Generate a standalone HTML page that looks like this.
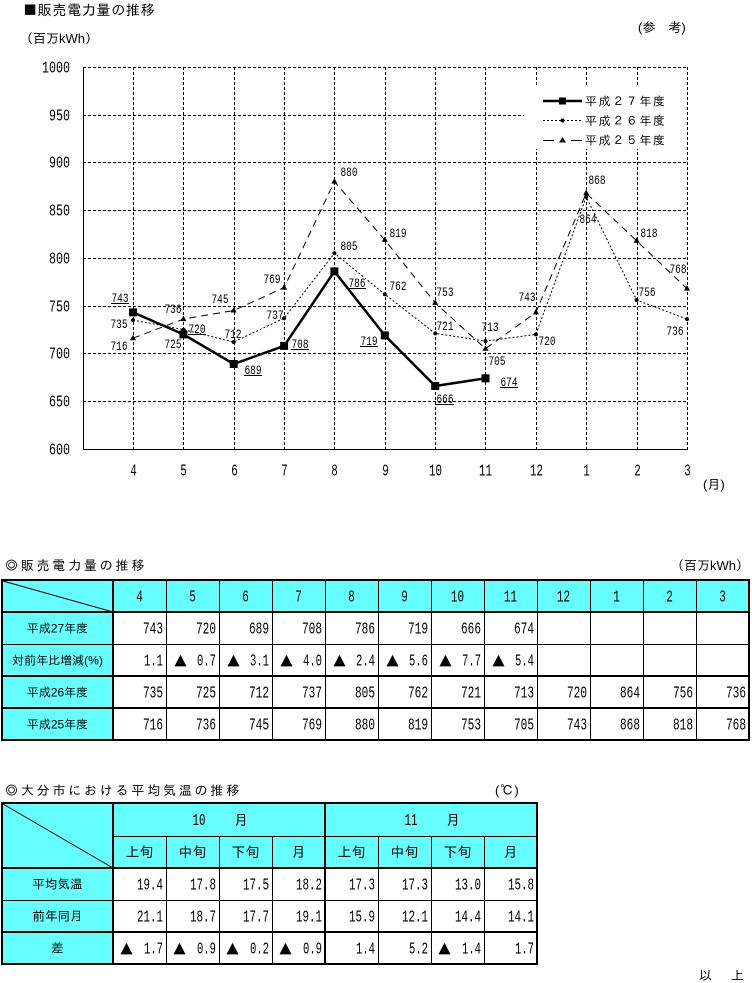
<!DOCTYPE html>
<html><head><meta charset="utf-8"><style>
html,body{margin:0;padding:0;background:#fff;}
svg{display:block;}
.jp{font-family:"Liberation Sans","IPAGothic","Noto Sans CJK JP",sans-serif;fill:#000;}
.sym{font-family:"IPAGothic","Noto Sans CJK JP",sans-serif;}
.tri{font-family:"IPAGothic","Noto Sans CJK JP",sans-serif;font-size:15px;fill:#000;}
.yt{font-family:"Liberation Mono",monospace;font-size:17px;fill:#000;}
.dl{font-family:"Liberation Mono",monospace;font-size:13px;fill:#000;}
.tn{font-family:"Liberation Mono",monospace;font-size:17px;fill:#000;}
</style></head><body>
<svg width="752" height="983" viewBox="0 0 752 983" xmlns="http://www.w3.org/2000/svg">
<rect width="752" height="983" fill="#fff"/>
<!-- Titles -->
<text class="jp" x="23" y="15" font-size="14" letter-spacing="0.7"><tspan class="sym">■</tspan>販売電力量の推移</text>
<text class="jp" x="20" y="43" font-size="13">（百万kWh）</text>
<text class="jp" x="638" y="32" font-size="13">(参　考)</text>

<!-- grid -->
<g stroke="#000" stroke-width="1" stroke-dasharray="3,2" fill="none">
<line x1="83" y1="67.5" x2="687" y2="67.5"/>
<line x1="83" y1="115.5" x2="687" y2="115.5"/>
<line x1="83" y1="162.5" x2="687" y2="162.5"/>
<line x1="83" y1="210.5" x2="687" y2="210.5"/>
<line x1="83" y1="258.5" x2="687" y2="258.5"/>
<line x1="83" y1="306.5" x2="687" y2="306.5"/>
<line x1="83" y1="353.5" x2="687" y2="353.5"/>
<line x1="83" y1="401.5" x2="687" y2="401.5"/>
<line x1="133.5" y1="67" x2="133.5" y2="449"/>
<line x1="183.5" y1="67" x2="183.5" y2="449"/>
<line x1="234.5" y1="67" x2="234.5" y2="449"/>
<line x1="284.5" y1="67" x2="284.5" y2="449"/>
<line x1="334.5" y1="67" x2="334.5" y2="449"/>
<line x1="385.5" y1="67" x2="385.5" y2="449"/>
<line x1="435.5" y1="67" x2="435.5" y2="449"/>
<line x1="485.5" y1="67" x2="485.5" y2="449"/>
<line x1="536.5" y1="67" x2="536.5" y2="449"/>
<line x1="586.5" y1="67" x2="586.5" y2="449"/>
<line x1="637.5" y1="67" x2="637.5" y2="449"/>
<line x1="687.5" y1="67" x2="687.5" y2="449"/>
</g>
<g stroke="#000" stroke-width="1">
<line x1="83.5" y1="67" x2="83.5" y2="449.5"/>
<line x1="83" y1="449.5" x2="688" y2="449.5"/>
</g>

<!-- legend -->
<rect x="524" y="87" width="162" height="62" fill="#fff"/>
<line x1="543" y1="101" x2="582" y2="101" stroke="#000" stroke-width="2.5"/>
<rect x="559" y="97.5" width="7" height="7" fill="#000"/>
<text class="jp" x="585" y="105.5" font-size="12" letter-spacing="1.6">平成２７年度</text>
<line x1="543" y1="120.5" x2="582" y2="120.5" stroke="#000" stroke-width="1" stroke-dasharray="2,2"/>
<circle cx="562.5" cy="120.5" r="2" fill="#000"/>
<text class="jp" x="585" y="125" font-size="12" letter-spacing="1.6">平成２６年度</text>
<line x1="543" y1="140.5" x2="554" y2="140.5" stroke="#000" stroke-width="1"/>
<line x1="571" y1="140.5" x2="582" y2="140.5" stroke="#000" stroke-width="1"/>
<polygon points="562.5,137 559,142.5 566,142.5" fill="#000"/>
<text class="jp" x="585" y="144.5" font-size="12" letter-spacing="1.6">平成２５年度</text>

<!-- y ticks -->
<g class="yt" text-anchor="end">
<text x="70" y="72.5" textLength="28" lengthAdjust="spacingAndGlyphs">1000</text>
<text x="70" y="120.5" textLength="21" lengthAdjust="spacingAndGlyphs">950</text>
<text x="70" y="167.5" textLength="21" lengthAdjust="spacingAndGlyphs">900</text>
<text x="70" y="215.5" textLength="21" lengthAdjust="spacingAndGlyphs">850</text>
<text x="70" y="263.5" textLength="21" lengthAdjust="spacingAndGlyphs">800</text>
<text x="70" y="311.5" textLength="21" lengthAdjust="spacingAndGlyphs">750</text>
<text x="70" y="358.5" textLength="21" lengthAdjust="spacingAndGlyphs">700</text>
<text x="70" y="406.5" textLength="21" lengthAdjust="spacingAndGlyphs">650</text>
<text x="70" y="454.5" textLength="21" lengthAdjust="spacingAndGlyphs">600</text>
</g>
<!-- x ticks -->
<g class="yt" text-anchor="middle">
<text x="133.5" y="475.5" textLength="6.5" lengthAdjust="spacingAndGlyphs">4</text>
<text x="183.5" y="475.5" textLength="6.5" lengthAdjust="spacingAndGlyphs">5</text>
<text x="234.5" y="475.5" textLength="6.5" lengthAdjust="spacingAndGlyphs">6</text>
<text x="284.5" y="475.5" textLength="6.5" lengthAdjust="spacingAndGlyphs">7</text>
<text x="334.5" y="475.5" textLength="6.5" lengthAdjust="spacingAndGlyphs">8</text>
<text x="385.5" y="475.5" textLength="6.5" lengthAdjust="spacingAndGlyphs">9</text>
<text x="435.5" y="475.5" textLength="13" lengthAdjust="spacingAndGlyphs">10</text>
<text x="485.5" y="475.5" textLength="13" lengthAdjust="spacingAndGlyphs">11</text>
<text x="536.5" y="475.5" textLength="13" lengthAdjust="spacingAndGlyphs">12</text>
<text x="586.5" y="475.5" textLength="6.5" lengthAdjust="spacingAndGlyphs">1</text>
<text x="637.5" y="475.5" textLength="6.5" lengthAdjust="spacingAndGlyphs">2</text>
<text x="687.5" y="475.5" textLength="6.5" lengthAdjust="spacingAndGlyphs">3</text>
</g>
<text class="jp" x="703" y="489" font-size="13">(月)</text>

<!-- series -->
<path d="M133,338.2 L183.4,319.1 L233.7,310.5 L284.1,287.6 L334.4,181.6 L384.8,239.9 L435.2,302.9 L485.5,348.7 L535.9,312.4 L586.2,193.1 L636.6,240.8 L687,288.6" fill="none" stroke="#000" stroke-width="1" stroke-dasharray="7,5"/>
<path d="M133,320.1 L183.4,329.6 L233.7,342 L284.1,318.2 L334.4,253.2 L384.8,294.3 L435.2,333.4 L485.5,341.1 L535.9,334.4 L586.2,196.9 L636.6,300 L687,319.1" fill="none" stroke="#000" stroke-width="1" stroke-dasharray="2,2"/>
<path d="M133,312.4 L183.4,334.4 L233.7,364 L284.1,345.9 L334.4,271.4 L384.8,335.4 L435.2,386 L485.5,378.3" fill="none" stroke="#000" stroke-width="2.5"/>
<g fill="#000">
<polygon points="133,334.7 130,340.2 136,340.2"/>
<polygon points="183.4,315.6 180.4,321.1 186.4,321.1"/>
<polygon points="233.7,307 230.7,312.5 236.7,312.5"/>
<polygon points="284.1,284.1 281.1,289.6 287.1,289.6"/>
<polygon points="334.4,178.1 331.4,183.6 337.4,183.6"/>
<polygon points="384.8,236.4 381.8,241.9 387.8,241.9"/>
<polygon points="435.2,299.4 432.2,304.9 438.2,304.9"/>
<polygon points="485.5,345.2 482.5,350.7 488.5,350.7"/>
<polygon points="535.9,308.9 532.9,314.4 538.9,314.4"/>
<polygon points="586.2,189.6 583.2,195.1 589.2,195.1"/>
<polygon points="636.6,237.3 633.6,242.8 639.6,242.8"/>
<polygon points="687,285.1 684,290.6 690,290.6"/>
<circle cx="133" cy="320.1" r="2"/><circle cx="183.4" cy="329.6" r="2"/><circle cx="233.7" cy="342" r="2"/>
<circle cx="284.1" cy="318.2" r="2"/><circle cx="334.4" cy="253.2" r="2"/><circle cx="384.8" cy="294.3" r="2"/>
<circle cx="435.2" cy="333.4" r="2"/><circle cx="485.5" cy="341.1" r="2"/><circle cx="535.9" cy="334.4" r="2"/>
<circle cx="586.2" cy="196.9" r="2"/><circle cx="636.6" cy="300" r="2"/><circle cx="687" cy="319.1" r="2"/>
<rect x="129" y="308.4" width="8" height="8"/>
<rect x="179.4" y="330.4" width="8" height="8"/>
<rect x="229.7" y="360" width="8" height="8"/>
<rect x="280.1" y="341.9" width="8" height="8"/>
<rect x="330.4" y="267.4" width="8" height="8"/>
<rect x="380.8" y="331.4" width="8" height="8"/>
<rect x="431.2" y="382" width="8" height="8"/>
<rect x="481.5" y="374.3" width="8" height="8"/>
</g>

<!-- data labels -->
<g class="dl" text-anchor="middle">
<text x="120" y="302" textLength="17" lengthAdjust="spacingAndGlyphs">743</text>
<text x="197" y="333" textLength="17" lengthAdjust="spacingAndGlyphs">720</text>
<text x="253" y="374" textLength="17" lengthAdjust="spacingAndGlyphs">689</text>
<text x="300" y="348" textLength="17" lengthAdjust="spacingAndGlyphs">708</text>
<text x="357" y="287" textLength="17" lengthAdjust="spacingAndGlyphs">786</text>
<text x="369" y="345" textLength="17" lengthAdjust="spacingAndGlyphs">719</text>
<text x="445" y="403" textLength="17" lengthAdjust="spacingAndGlyphs">666</text>
<text x="509" y="386" textLength="17" lengthAdjust="spacingAndGlyphs">674</text>
<text x="119" y="328" textLength="17" lengthAdjust="spacingAndGlyphs">735</text>
<text x="173" y="348" textLength="17" lengthAdjust="spacingAndGlyphs">725</text>
<text x="233" y="338" textLength="17" lengthAdjust="spacingAndGlyphs">712</text>
<text x="275" y="319" textLength="17" lengthAdjust="spacingAndGlyphs">737</text>
<text x="349" y="250" textLength="17" lengthAdjust="spacingAndGlyphs">805</text>
<text x="398" y="290" textLength="17" lengthAdjust="spacingAndGlyphs">762</text>
<text x="445" y="330" textLength="17" lengthAdjust="spacingAndGlyphs">721</text>
<text x="490" y="331" textLength="17" lengthAdjust="spacingAndGlyphs">713</text>
<text x="547" y="345" textLength="17" lengthAdjust="spacingAndGlyphs">720</text>
<text x="588" y="223" textLength="17" lengthAdjust="spacingAndGlyphs">864</text>
<text x="647" y="296" textLength="17" lengthAdjust="spacingAndGlyphs">756</text>
<text x="675" y="335" textLength="17" lengthAdjust="spacingAndGlyphs">736</text>
<text x="119" y="350" textLength="17" lengthAdjust="spacingAndGlyphs">716</text>
<text x="173" y="313" textLength="17" lengthAdjust="spacingAndGlyphs">736</text>
<text x="220" y="303" textLength="17" lengthAdjust="spacingAndGlyphs">745</text>
<text x="272" y="283" textLength="17" lengthAdjust="spacingAndGlyphs">769</text>
<text x="349" y="176" textLength="17" lengthAdjust="spacingAndGlyphs">880</text>
<text x="398" y="237" textLength="17" lengthAdjust="spacingAndGlyphs">819</text>
<text x="445" y="296" textLength="17" lengthAdjust="spacingAndGlyphs">753</text>
<text x="497" y="365" textLength="17" lengthAdjust="spacingAndGlyphs">705</text>
<text x="527" y="301" textLength="17" lengthAdjust="spacingAndGlyphs">743</text>
<text x="597" y="184" textLength="17" lengthAdjust="spacingAndGlyphs">868</text>
<text x="649" y="237" textLength="17" lengthAdjust="spacingAndGlyphs">818</text>
<text x="678" y="273" textLength="17" lengthAdjust="spacingAndGlyphs">768</text>
</g>
<g stroke="#000" stroke-width="1">
<line x1="111" y1="303.5" x2="129" y2="303.5"/>
<line x1="188" y1="334.5" x2="206" y2="334.5"/>
<line x1="244" y1="375.5" x2="262" y2="375.5"/>
<line x1="291" y1="349.5" x2="309" y2="349.5"/>
<line x1="348" y1="288.5" x2="366" y2="288.5"/>
<line x1="360" y1="346.5" x2="378" y2="346.5"/>
<line x1="436" y1="404.5" x2="454" y2="404.5"/>
<line x1="500" y1="387.5" x2="518" y2="387.5"/>
</g>

<!-- ===== Table 1 ===== -->
<text class="jp" x="5" y="570" font-size="13" letter-spacing="2.8"><tspan class="sym">◎</tspan>販売電力量の推移</text>
<text class="jp" x="671" y="570" font-size="13">（百万kWh）</text>
<rect x="2" y="580" width="747" height="160" fill="#fff"/>
<rect x="113" y="580" width="636" height="32" fill="#66ffff"/>
<rect x="2" y="580" width="111" height="160" fill="#66ffff"/>
<line x1="3" y1="581" x2="113" y2="612" stroke="#000" stroke-width="1"/>
<g fill="#000">
<rect x="2" y="579" width="747" height="2"/>
<rect x="2" y="739" width="747" height="2"/>
<rect x="1" y="579" width="2" height="162"/>
<rect x="748" y="579" width="2" height="162"/>
<rect x="2" y="611" width="747" height="2"/>
<rect x="2" y="644" width="747" height="1"/>
<rect x="2" y="675" width="747" height="2"/>
<rect x="2" y="707" width="747" height="2"/>
<rect x="112" y="580" width="2" height="160"/>
<rect x="166" y="580" width="1" height="160"/>
<rect x="219" y="580" width="1" height="160"/>
<rect x="272" y="580" width="1" height="160"/>
<rect x="325" y="580" width="1" height="160"/>
<rect x="378" y="580" width="1" height="160"/>
<rect x="431" y="580" width="1" height="160"/>
<rect x="484" y="580" width="1" height="160"/>
<rect x="537" y="580" width="1" height="160"/>
<rect x="590" y="580" width="1" height="160"/>
<rect x="643" y="580" width="1" height="160"/>
<rect x="696" y="580" width="1" height="160"/>
</g>
<g class="tn" text-anchor="middle">
<text x="139.5" y="601.5" textLength="6.6" lengthAdjust="spacingAndGlyphs">4</text>
<text x="192.5" y="601.5" textLength="6.6" lengthAdjust="spacingAndGlyphs">5</text>
<text x="245.5" y="601.5" textLength="6.6" lengthAdjust="spacingAndGlyphs">6</text>
<text x="298.5" y="601.5" textLength="6.6" lengthAdjust="spacingAndGlyphs">7</text>
<text x="351.5" y="601.5" textLength="6.6" lengthAdjust="spacingAndGlyphs">8</text>
<text x="404.5" y="601.5" textLength="6.6" lengthAdjust="spacingAndGlyphs">9</text>
<text x="457.5" y="601.5" textLength="13.2" lengthAdjust="spacingAndGlyphs">10</text>
<text x="510.5" y="601.5" textLength="13.2" lengthAdjust="spacingAndGlyphs">11</text>
<text x="563.5" y="601.5" textLength="13.2" lengthAdjust="spacingAndGlyphs">12</text>
<text x="616.5" y="601.5" textLength="6.6" lengthAdjust="spacingAndGlyphs">1</text>
<text x="669.5" y="601.5" textLength="6.6" lengthAdjust="spacingAndGlyphs">2</text>
<text x="722.5" y="601.5" textLength="6.6" lengthAdjust="spacingAndGlyphs">3</text>
</g>
<g class="jp" font-size="12" text-anchor="middle">
<text x="57.5" y="632.5">平成27年度</text>
<text x="57.5" y="664.5">対前年比増減(%)</text>
<text x="57.5" y="696.5">平成26年度</text>
<text x="57.5" y="728.5">平成25年度</text>
</g>
<g class="tn" text-anchor="end">
<text x="163" y="633.5" textLength="20" lengthAdjust="spacingAndGlyphs">743</text>
<text x="216" y="633.5" textLength="20" lengthAdjust="spacingAndGlyphs">720</text>
<text x="269" y="633.5" textLength="20" lengthAdjust="spacingAndGlyphs">689</text>
<text x="322" y="633.5" textLength="20" lengthAdjust="spacingAndGlyphs">708</text>
<text x="375" y="633.5" textLength="20" lengthAdjust="spacingAndGlyphs">786</text>
<text x="428" y="633.5" textLength="20" lengthAdjust="spacingAndGlyphs">719</text>
<text x="481" y="633.5" textLength="20" lengthAdjust="spacingAndGlyphs">666</text>
<text x="534" y="633.5" textLength="20" lengthAdjust="spacingAndGlyphs">674</text>

<text x="163" y="665.5" textLength="19" lengthAdjust="spacingAndGlyphs">1.1</text>
<text x="216" y="665.5" textLength="19" lengthAdjust="spacingAndGlyphs">0.7</text>
<text x="269" y="665.5" textLength="19" lengthAdjust="spacingAndGlyphs">3.1</text>
<text x="322" y="665.5" textLength="19" lengthAdjust="spacingAndGlyphs">4.0</text>
<text x="375" y="665.5" textLength="19" lengthAdjust="spacingAndGlyphs">2.4</text>
<text x="428" y="665.5" textLength="19" lengthAdjust="spacingAndGlyphs">5.6</text>
<text x="481" y="665.5" textLength="19" lengthAdjust="spacingAndGlyphs">7.7</text>
<text x="534" y="665.5" textLength="19" lengthAdjust="spacingAndGlyphs">5.4</text>

<text x="163" y="697.5" textLength="20" lengthAdjust="spacingAndGlyphs">735</text>
<text x="216" y="697.5" textLength="20" lengthAdjust="spacingAndGlyphs">725</text>
<text x="269" y="697.5" textLength="20" lengthAdjust="spacingAndGlyphs">712</text>
<text x="322" y="697.5" textLength="20" lengthAdjust="spacingAndGlyphs">737</text>
<text x="375" y="697.5" textLength="20" lengthAdjust="spacingAndGlyphs">805</text>
<text x="428" y="697.5" textLength="20" lengthAdjust="spacingAndGlyphs">762</text>
<text x="481" y="697.5" textLength="20" lengthAdjust="spacingAndGlyphs">721</text>
<text x="534" y="697.5" textLength="20" lengthAdjust="spacingAndGlyphs">713</text>
<text x="587" y="697.5" textLength="20" lengthAdjust="spacingAndGlyphs">720</text>
<text x="640" y="697.5" textLength="20" lengthAdjust="spacingAndGlyphs">864</text>
<text x="693" y="697.5" textLength="20" lengthAdjust="spacingAndGlyphs">756</text>
<text x="746" y="697.5" textLength="20" lengthAdjust="spacingAndGlyphs">736</text>

<text x="163" y="729.5" textLength="20" lengthAdjust="spacingAndGlyphs">716</text>
<text x="216" y="729.5" textLength="20" lengthAdjust="spacingAndGlyphs">736</text>
<text x="269" y="729.5" textLength="20" lengthAdjust="spacingAndGlyphs">745</text>
<text x="322" y="729.5" textLength="20" lengthAdjust="spacingAndGlyphs">769</text>
<text x="375" y="729.5" textLength="20" lengthAdjust="spacingAndGlyphs">880</text>
<text x="428" y="729.5" textLength="20" lengthAdjust="spacingAndGlyphs">819</text>
<text x="481" y="729.5" textLength="20" lengthAdjust="spacingAndGlyphs">753</text>
<text x="534" y="729.5" textLength="20" lengthAdjust="spacingAndGlyphs">705</text>
<text x="587" y="729.5" textLength="20" lengthAdjust="spacingAndGlyphs">743</text>
<text x="640" y="729.5" textLength="20" lengthAdjust="spacingAndGlyphs">868</text>
<text x="693" y="729.5" textLength="20" lengthAdjust="spacingAndGlyphs">818</text>
<text x="746" y="729.5" textLength="20" lengthAdjust="spacingAndGlyphs">768</text>
</g>
<g class="tri">
<text x="173" y="666.5">▲</text>
<text x="226" y="666.5">▲</text>
<text x="279" y="666.5">▲</text>
<text x="332" y="666.5">▲</text>
<text x="385" y="666.5">▲</text>
<text x="438" y="666.5">▲</text>
<text x="491" y="666.5">▲</text>
</g>

<!-- ===== Table 2 ===== -->
<text class="jp" x="5" y="795" font-size="13" letter-spacing="2.8"><tspan class="sym">◎</tspan>大分市における平均気温の推移</text>
<text class="jp" x="495" y="795" font-size="13" letter-spacing="1">(℃)</text>
<rect x="2" y="803" width="535" height="161" fill="#fff"/>
<rect x="113" y="803" width="424" height="65" fill="#66ffff"/>
<rect x="2" y="803" width="111" height="161" fill="#66ffff"/>
<line x1="3" y1="804" x2="113" y2="868" stroke="#000" stroke-width="1"/>
<g fill="#000">
<rect x="1" y="802" width="537" height="2"/>
<rect x="1" y="963" width="537" height="2"/>
<rect x="1" y="802" width="2" height="163"/>
<rect x="536" y="802" width="2" height="163"/>
<rect x="113" y="836" width="424" height="1"/>
<rect x="2" y="867" width="535" height="2"/>
<rect x="2" y="900" width="535" height="1"/>
<rect x="2" y="931" width="535" height="2"/>
<rect x="112" y="803" width="2" height="161"/>
<rect x="324" y="803" width="2" height="161"/>
<rect x="166" y="836" width="1" height="128"/>
<rect x="219" y="836" width="1" height="128"/>
<rect x="272" y="836" width="1" height="128"/>
<rect x="378" y="836" width="1" height="128"/>
<rect x="431" y="836" width="1" height="128"/>
<rect x="484" y="836" width="1" height="128"/>
</g>
<g class="tn" text-anchor="middle">
<text x="199" y="825" textLength="13" lengthAdjust="spacingAndGlyphs">10</text>
<text x="411" y="825" textLength="13" lengthAdjust="spacingAndGlyphs">11</text>
</g>
<g class="jp" font-size="14" text-anchor="middle">
<text x="241" y="825">月</text>
<text x="453" y="825">月</text>
<text x="139.5" y="857">上旬</text>
<text x="192.5" y="857">中旬</text>
<text x="245.5" y="857">下旬</text>
<text x="298.5" y="857">月</text>
<text x="351.5" y="857">上旬</text>
<text x="404.5" y="857">中旬</text>
<text x="457.5" y="857">下旬</text>
<text x="510.5" y="857">月</text>
</g>
<g class="jp" font-size="12.5" text-anchor="middle">
<text x="57.5" y="888.5">平均気温</text>
<text x="57.5" y="920.5">前年同月</text>
<text x="57.5" y="952.5">差</text>
</g>
<g class="tn" text-anchor="end">
<text x="163" y="889.5" textLength="26" lengthAdjust="spacingAndGlyphs">19.4</text>
<text x="216" y="889.5" textLength="26" lengthAdjust="spacingAndGlyphs">17.8</text>
<text x="269" y="889.5" textLength="26" lengthAdjust="spacingAndGlyphs">17.5</text>
<text x="322" y="889.5" textLength="26" lengthAdjust="spacingAndGlyphs">18.2</text>
<text x="375" y="889.5" textLength="26" lengthAdjust="spacingAndGlyphs">17.3</text>
<text x="428" y="889.5" textLength="26" lengthAdjust="spacingAndGlyphs">17.3</text>
<text x="481" y="889.5" textLength="26" lengthAdjust="spacingAndGlyphs">13.0</text>
<text x="534" y="889.5" textLength="26" lengthAdjust="spacingAndGlyphs">15.8</text>

<text x="163" y="921.5" textLength="26" lengthAdjust="spacingAndGlyphs">21.1</text>
<text x="216" y="921.5" textLength="26" lengthAdjust="spacingAndGlyphs">18.7</text>
<text x="269" y="921.5" textLength="26" lengthAdjust="spacingAndGlyphs">17.7</text>
<text x="322" y="921.5" textLength="26" lengthAdjust="spacingAndGlyphs">19.1</text>
<text x="375" y="921.5" textLength="26" lengthAdjust="spacingAndGlyphs">15.9</text>
<text x="428" y="921.5" textLength="26" lengthAdjust="spacingAndGlyphs">12.1</text>
<text x="481" y="921.5" textLength="26" lengthAdjust="spacingAndGlyphs">14.4</text>
<text x="534" y="921.5" textLength="26" lengthAdjust="spacingAndGlyphs">14.1</text>

<text x="163" y="953.5" textLength="19" lengthAdjust="spacingAndGlyphs">1.7</text>
<text x="216" y="953.5" textLength="19" lengthAdjust="spacingAndGlyphs">0.9</text>
<text x="269" y="953.5" textLength="19" lengthAdjust="spacingAndGlyphs">0.2</text>
<text x="322" y="953.5" textLength="19" lengthAdjust="spacingAndGlyphs">0.9</text>
<text x="375" y="953.5" textLength="19" lengthAdjust="spacingAndGlyphs">1.4</text>
<text x="428" y="953.5" textLength="19" lengthAdjust="spacingAndGlyphs">5.2</text>
<text x="481" y="953.5" textLength="19" lengthAdjust="spacingAndGlyphs">1.4</text>
<text x="534" y="953.5" textLength="19" lengthAdjust="spacingAndGlyphs">1.7</text>
</g>
<g class="tri">
<text x="119" y="954.5">▲</text>
<text x="172" y="954.5">▲</text>
<text x="225" y="954.5">▲</text>
<text x="278" y="954.5">▲</text>
<text x="437" y="954.5">▲</text>
</g>

<text class="jp" x="699" y="980" font-size="13" letter-spacing="3">以　上</text>
</svg>
</body></html>
